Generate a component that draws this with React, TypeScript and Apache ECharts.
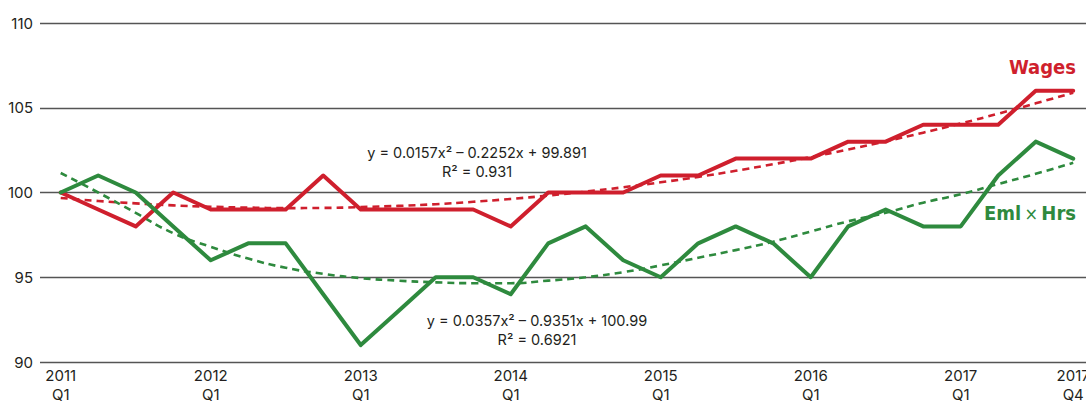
import React, { useEffect, useRef } from "react";
import * as echarts from "echarts";

const periods: string[] = [
  "2011 Q1", "2011 Q2", "2011 Q3", "2011 Q4",
  "2012 Q1", "2012 Q2", "2012 Q3", "2012 Q4",
  "2013 Q1", "2013 Q2", "2013 Q3", "2013 Q4",
  "2014 Q1", "2014 Q2", "2014 Q3", "2014 Q4",
  "2015 Q1", "2015 Q2", "2015 Q3", "2015 Q4",
  "2016 Q1", "2016 Q2", "2016 Q3", "2016 Q4",
  "2017 Q1", "2017 Q2", "2017 Q3", "2017 Q4",
];

const wages: number[] = [
  100, 99, 98, 100,
  99, 99, 99, 101,
  99, 99, 99, 99,
  98, 100, 100, 100,
  101, 101, 102, 102,
  102, 103, 103, 104,
  104, 104, 106, 106,
];

const emlHrs: number[] = [
  100, 101, 100, 98,
  96, 97, 97, 94,
  91, 93, 95, 95,
  94, 97, 98, 96,
  95, 97, 98, 97,
  95, 98, 99, 98,
  98, 101, 103, 102,
];

const wagesTrend: number[] = [
  99.68, 99.5, 99.36, 99.24,
  99.16, 99.11, 99.08, 99.09,
  99.14, 99.21, 99.31, 99.45,
  99.62, 99.82, 100.05, 100.31,
  100.6, 100.92, 101.28, 101.67,
  102.09, 102.54, 103.02, 103.53,
  104.07, 104.65, 105.26, 105.89,
];

const emlHrsTrend: number[] = [
  101.15, 100.0, 98.8, 97.6,
  96.8, 96.1, 95.56, 95.2,
  94.95, 94.8, 94.7, 94.65,
  94.65, 94.8, 95.0, 95.3,
  95.7, 96.15, 96.6, 97.1,
  97.7, 98.3, 98.8, 99.4,
  99.9, 100.5, 101.1, 101.75,
];

const labelIndexes: number[] = [0, 4, 8, 12, 16, 20, 24, 27];
const yTicks: number[] = [90, 95, 100, 105, 110];

const wagesEquation = ["y = 0.0157x\u00B2 \u2013 0.2252x + 99.891", "R\u00B2 = 0.931"];
const emlEquation = ["y = 0.0357x\u00B2 \u2013 0.9351x + 100.99", "R\u00B2 = 0.6921"];

const RED = "#cf1f2d";
const GREEN = "#2e8a3e";
const TEXT = "#231f20";
const GRID = "#555555";
const FONT = "Inter, 'Noto Sans', sans-serif";
const BOLD_FONT = "'DejaVu Sans Condensed', 'DejaVu Sans', sans-serif";

export default function App() {
  const ref = useRef<HTMLDivElement>(null);

  useEffect(() => {
    if (!ref.current) return;
    const chart = echarts.init(ref.current, null, { renderer: "svg" });
    const toPts = (arr: number[]) => arr.map((v, i) => [i, v]);

    chart.setOption({
      animation: false,
      backgroundColor: "#ffffff",
      textStyle: { fontFamily: FONT },
      grid: {
        left: 40,
        right: 0,
        top: 23,
        bottom: 39,
        containLabel: false,
        outerBoundsMode: "none",
      },
      xAxis: {
        type: "value",
        min: -0.552,
        max: 27.341,
        axisLine: { show: false },
        axisTick: { show: false },
        splitLine: { show: false },
        axisLabel: {
          customValues: labelIndexes,
          color: TEXT,
          fontSize: 15,
          lineHeight: 19,
          margin: 4,
          fontFamily: FONT,
          hideOverlap: false,
          formatter: (v: number) => {
            const p = periods[Math.round(v)] || "";
            return p.replace(" ", "\n");
          },
        },
      },
      yAxis: {
        type: "value",
        min: 90,
        max: 110,
        interval: 5,
        axisLine: { show: false },
        axisTick: { show: false },
        splitLine: { show: true, lineStyle: { color: GRID, width: 1.3 } },
        axisLabel: {
          customValues: yTicks,
          color: TEXT,
          fontSize: 15,
          margin: 7,
          fontFamily: FONT,
        },
      },
      series: [
        {
          type: "line",
          name: "Wages trend",
          data: toPts(wagesTrend),
          smooth: true,
          symbol: "none",
          lineStyle: { color: RED, width: 2.6, type: [7, 5] },
          z: 2,
        },
        {
          type: "line",
          name: "Eml x Hrs trend",
          data: toPts(emlHrsTrend),
          smooth: true,
          symbol: "none",
          lineStyle: { color: GREEN, width: 2.6, type: [7, 5] },
          z: 2,
        },
        {
          type: "line",
          name: "Wages",
          data: toPts(wages),
          symbol: "none",
          lineStyle: { color: RED, width: 4, cap: "round", join: "round" },
          z: 3,
        },
        {
          type: "line",
          name: "Eml x Hrs",
          data: toPts(emlHrs),
          symbol: "none",
          lineStyle: { color: GREEN, width: 4, cap: "round", join: "round" },
          z: 4,
        },
      ],
      graphic: [
        {
          type: "text",
          x: 477,
          y: 162,
          style: {
            text: wagesEquation.join("\n"),
            fill: TEXT,
            font: `14.5px ${FONT}`,
            lineHeight: 19,
            align: "center",
            verticalAlign: "middle",
          },
          z: 10,
        },
        {
          type: "text",
          x: 537,
          y: 330,
          style: {
            text: emlEquation.join("\n"),
            fill: TEXT,
            font: `14.5px ${FONT}`,
            lineHeight: 19,
            align: "center",
            verticalAlign: "middle",
          },
          z: 10,
        },
        {
          type: "text",
          x: 1076,
          y: 67,
          style: {
            text: "Wages",
            fill: RED,
            font: `bold 20px ${BOLD_FONT}`,
            align: "right",
            verticalAlign: "middle",
          },
          z: 10,
        },
        {
          type: "text",
          x: 1076,
          y: 213,
          style: {
            text: "{b|Eml} {x|\u00D7} {b|Hrs}",
            fill: GREEN,
            align: "right",
            verticalAlign: "middle",
            rich: {
              b: { fill: GREEN, font: `bold 20px ${BOLD_FONT}` },
              x: { fill: GREEN, font: `18px ${BOLD_FONT}` },
            },
          },
          z: 10,
        },
      ],
    });

    return () => chart.dispose();
  }, []);

  return (
    <div
      ref={ref}
      style={{ position: "absolute", left: 0, top: 0, width: 1086, height: 401 }}
    />
  );
}
